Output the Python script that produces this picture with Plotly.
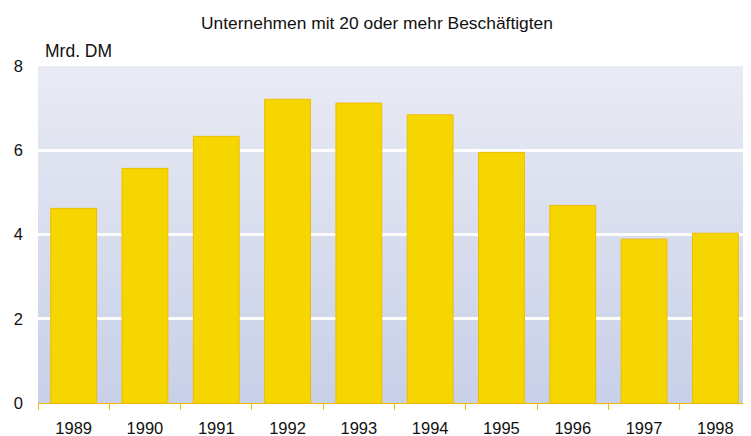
import base64
import plotly.graph_objects as go

title_text = "Unternehmen mit 20 oder mehr Beschäftigten"
unit_label = "Mrd. DM"
years = ["1989", "1990", "1991", "1992", "1993", "1994", "1995", "1996", "1997", "1998"]
values = [4.62, 5.57, 6.33, 7.21, 7.12, 6.84, 5.95, 4.69, 3.89, 4.03]
y_ticks = [0, 2, 4, 6, 8]

FONT = "Liberation Sans, Arial, sans-serif"

# The page body has an 8px default margin; figure coordinates are offset accordingly.
W, H = 743, 428
ML, MT, MB = 30, 58, 33

svg = (
    '<svg xmlns="http://www.w3.org/2000/svg" width="10" height="100" '
    'viewBox="0 0 10 100" preserveAspectRatio="none">'
    '<defs><linearGradient id="g" x1="0" y1="0" x2="0" y2="1">'
    '<stop offset="0" stop-color="#e9ebf4"/>'
    '<stop offset="1" stop-color="#c8d0e8"/>'
    '</linearGradient></defs>'
    '<rect width="10" height="100" fill="url(#g)"/></svg>'
)
bg_src = "data:image/svg+xml;base64," + base64.b64encode(svg.encode()).decode()

fig = go.Figure(
    go.Bar(
        x=years,
        y=values,
        marker=dict(color="#f5d600", line=dict(color="#f0bc00", width=1)),
        hoverinfo="x+y",
    )
)

fig.update_layout(
    width=W,
    height=H,
    margin=dict(l=ML, r=0, t=MT, b=MB, autoexpand=False),
    paper_bgcolor="white",
    plot_bgcolor="rgba(0,0,0,0)",
    bargap=0.357,
    showlegend=False,
    font=dict(family=FONT, size=16, color="#111111"),
    title=dict(
        text=title_text,
        x=(377 - 8) / W,
        xanchor="center",
        xref="container",
        y=1 - (23 - 8) / H,
        yanchor="middle",
        yref="container",
        font=dict(family=FONT, size=17.4, color="#111111"),
    ),
    images=[
        dict(
            source=bg_src,
            xref="paper",
            yref="paper",
            x=0,
            y=1,
            sizex=1,
            sizey=1,
            xanchor="left",
            yanchor="top",
            sizing="stretch",
            layer="below",
        )
    ],
    annotations=[
        dict(
            text=unit_label,
            xref="paper",
            yref="paper",
            x=(43 - 38) / (W - ML),
            y=1,
            xanchor="left",
            yanchor="middle",
            yshift=15,
            showarrow=False,
            font=dict(family=FONT, size=17.5, color="#111111"),
        )
    ],
)

fig.update_xaxes(
    type="category",
    showgrid=False,
    showline=True,
    linecolor="#f0bc00",
    linewidth=1,
    ticks="outside",
    tickson="boundaries",
    ticklen=6,
    tickcolor="#f0bc00",
    tickwidth=1,
    ticklabelstandoff=10,
    tickfont=dict(family=FONT, size=16.5, color="#111111"),
    zeroline=False,
)

fig.update_yaxes(
    range=[0, 8],
    tickvals=y_ticks,
    showgrid=True,
    gridcolor="white",
    gridwidth=3,
    showline=False,
    zeroline=False,
    ticks="",
    ticklabelstandoff=14,
    tickfont=dict(family=FONT, size=16.5, color="#111111"),
)

fig.write_html("out.html")
